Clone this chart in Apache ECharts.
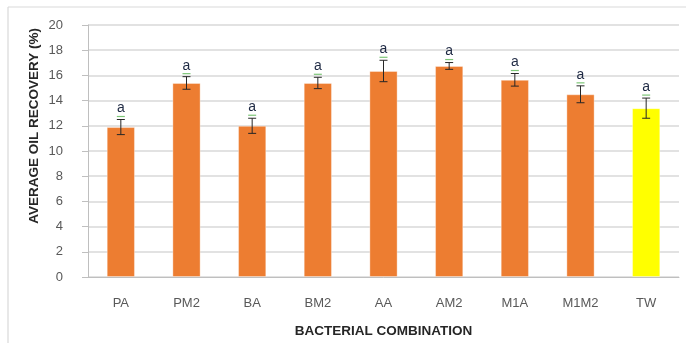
<!DOCTYPE html>
<html>
<head>
<meta charset="utf-8">
<script src="https://cdn.jsdelivr.net/npm/echarts@6/dist/echarts.min.js"></script>
<style>html,body{margin:0;padding:0;background:#fff;}#c{width:686px;height:343px;}</style>
</head>
<body>
<div id="c"></div>
<script>
var categories = ['PA','PM2','BA','BM2','AA','AM2','M1A','M1M2','TW'];
var values = [11.9, 15.4, 12.0, 15.4, 16.35, 16.75, 15.65, 14.5, 13.4];
var errors = [0.6, 0.5, 0.6, 0.45, 0.85, 0.27, 0.5, 0.67, 0.8];
var letters = ['a','a','a','a','a','a','a','a','a'];
var barColors = ['#ED7D31','#ED7D31','#ED7D31','#ED7D31','#ED7D31','#ED7D31','#ED7D31','#ED7D31','#FFFF00'];
var yTicks = [0,2,4,6,8,10,12,14,16,18,20];

var chart = echarts.init(document.getElementById('c'), null, {renderer:'canvas'});
var errData = categories.map(function(c,i){ return [i, values[i], errors[i], letters[i]]; });

var option = {
  animation: false,
  backgroundColor: '#fff',
  graphic: [
    {type:'line', shape:{x1:8,y1:7,x2:686,y2:7}, style:{stroke:'#d9d9d9',lineWidth:1.2}},
    {type:'line', shape:{x1:8,y1:7,x2:8,y2:343}, style:{stroke:'#d9d9d9',lineWidth:1.2}},
    {type:'text', left:27, top:28, rotation:Math.PI/2,
     style:{text:'AVERAGE OIL RECOVERY (%)', font:'bold 13.5px "Liberation Sans", Arial, sans-serif', fill:'#262626'}}
  ],
  grid: {left:88, right:7, top:25, bottom:66, containLabel:false},
  xAxis: {
    type:'category', data:categories,
    name:'BACTERIAL COMBINATION', nameLocation:'middle', nameGap:47,
    nameTextStyle:{fontFamily:'"Liberation Sans", Arial', fontWeight:'bold', fontSize:13.5, color:'#262626'},
    axisLine:{show:true, lineStyle:{color:'#bfbfbf'}},
    axisTick:{show:false},
    axisLabel:{fontFamily:'"Liberation Sans", Arial', fontSize:13, color:'#595959', margin:20}
  },
  yAxis: {
    type:'value', min:yTicks[0], max:yTicks[yTicks.length-1], interval:2,
    axisLine:{show:true, lineStyle:{color:'#bfbfbf'}},
    axisTick:{show:true, length:6, lineStyle:{color:'#bfbfbf'}},
    splitLine:{show:true, lineStyle:{color:'#d9d9d9', width:1.5}},
    axisLabel:{fontFamily:'"Liberation Sans", Arial', fontSize:13, color:'#595959', margin:25}
  },
  series: [
    {
      type:'bar', barWidth:'43%',
      data: values.map(function(v,i){ return {value:v, itemStyle:{color:barColors[i], borderColor:'rgba(255,255,255,0.35)', borderWidth:1}}; })
    },
    {
      type:'custom', data: errData, z:10,
      renderItem: function(params, api){
        var i = api.value(0), v = api.value(1), e = api.value(2);
        var top = api.coord([i, v+e]);
        var bot = api.coord([i, v-e]);
        var x = top[0];
        var cw = 4;
        var st = {stroke:'#262626', lineWidth:1};
        return {type:'group', children:[
          {type:'line', shape:{x1:x,y1:top[1],x2:x,y2:bot[1]}, style:st},
          {type:'line', shape:{x1:x-cw,y1:top[1],x2:x+cw,y2:top[1]}, style:st},
          {type:'line', shape:{x1:x-cw,y1:bot[1],x2:x+cw,y2:bot[1]}, style:st},
          {type:'text', style:{text:letters[i], x:x, y:top[1]-4, align:'center', verticalAlign:'bottom',
            font:'14px "Liberation Sans", Arial, sans-serif', fill:'#1f2a44'}},
          {type:'line', shape:{x1:x-4,y1:top[1]-3,x2:x+4,y2:top[1]-3}, style:{stroke:'#7cc576', lineWidth:1.2}}
        ]};
      }
    }
  ]
};
chart.setOption(option);
</script>
</body>
</html>
